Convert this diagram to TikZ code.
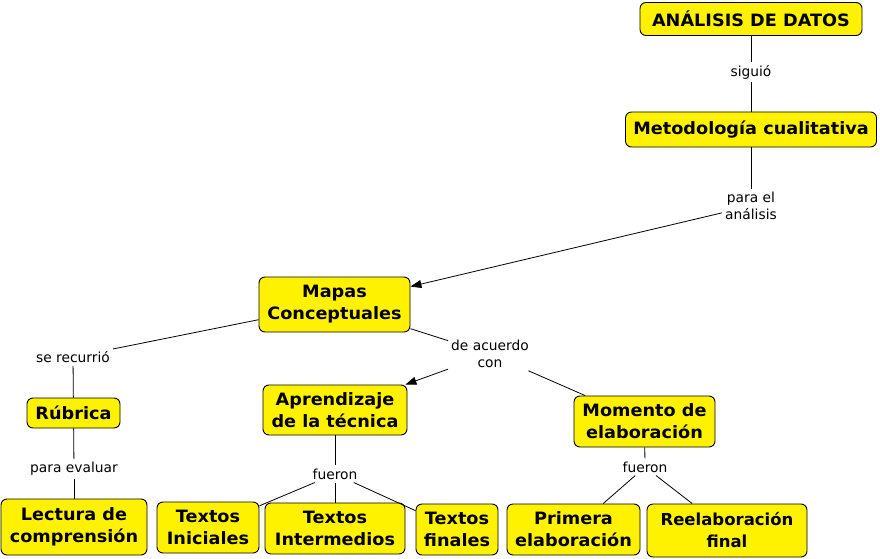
\documentclass[tikz,border=0pt]{standalone}
\usepackage{fontspec}
\setmainfont{DejaVu Sans}
\newfontfamily\cfont{DejaVu Sans}[FakeStretch=1.04]
\newfontfamily\rfont{DejaVu Sans}
\usetikzlibrary{arrows.meta}
\tikzset{
  concept/.style={draw=black, line width=0.9pt, fill=yellow, rounded corners=6pt,
    align=center, inner sep=1pt, font=\cfont\bfseries\fontsize{17}{22}\selectfont},
  linkph/.style={align=center, inner sep=3pt, font=\fontsize{13.8}{16.5}\selectfont},
  conn/.style={draw=black, line width=0.8pt},
  arr/.style={conn, -{Triangle[length=11pt,width=8pt]}}
}
\begin{document}
\begin{tikzpicture}[x=1pt,y=-1pt]
\useasboundingbox (0,0) rectangle (880,559);
% concepts
\node[concept, minimum width=222pt, minimum height=33pt] (analisis) at (751,19) {ANÁLISIS DE DATOS};
\node[concept, minimum width=251pt, minimum height=35pt] (metodo) at (751,129.5) {Metodología cualitativa};
\node[concept, minimum width=151pt, minimum height=55pt] (mapas) at (334.5,304.5) {Mapas\\Conceptuales};
\node[concept, minimum width=93pt, minimum height=30pt] (rubrica) at (73.5,413) {Rúbrica};
\node[concept, minimum width=146pt, minimum height=56pt] (lectura) at (74,527) {Lectura de\\comprensión};
\node[concept, minimum width=144pt, minimum height=50pt] (aprend) at (335,410) {Aprendizaje\\de la técnica};
\node[concept, minimum width=102pt, minimum height=51pt] (tini) at (208,527.5) {Textos\\Iniciales};
\node[concept, minimum width=140pt, minimum height=51pt] (tint) at (335,528.5) {Textos\\Intermedios};
\node[concept, minimum width=82pt, minimum height=51pt] (tfin) at (457,529.5) {Textos\\finales};
\node[concept, minimum width=141pt, minimum height=51pt] (momento) at (644.5,421.5) {Momento de\\elaboración};
\node[concept, minimum width=133pt, minimum height=51pt] (primera) at (573.5,529.5) {Primera\\elaboración};
\node[concept, minimum width=160pt, minimum height=53pt, font=\rfont\bfseries\fontsize{16.5}{22}\selectfont] (reel) at (727,530.5) {Reelaboración\\final};
% linking phrases
\node[linkph] (siguio) at (751,72) {siguió};
\node[linkph] (paraanal) at (751,206) {para el\\análisis};
\node[linkph] (serec) at (73,357) {se recurrió};
\node[linkph] (paraeval) at (74,469) {para evaluar};
\node[linkph] (deacuerdo) at (490,354) {de acuerdo\\con};
\node[linkph] (fueronA) at (335,474) {fueron};
\node[linkph] (fueronB) at (645,467) {fueron};
% connectors
\draw[conn] (analisis) -- (siguio);
\draw[conn] (siguio) -- (metodo);
\draw[conn] (metodo) -- (paraanal);
\draw[arr] (paraanal) -- (mapas);
\draw[conn] (mapas) -- (serec);
\draw[conn] (serec) -- (rubrica);
\draw[conn] (rubrica) -- (paraeval);
\draw[conn] (paraeval) -- (lectura);
\draw[conn] (mapas) -- (deacuerdo);
\draw[arr] (deacuerdo) -- (aprend);
\draw[conn] (deacuerdo) -- (momento);
\draw[conn] (aprend) -- (fueronA);
\draw[conn] (fueronA) -- (tini);
\draw[conn] (fueronA) -- (tint);
\draw[conn] (fueronA) -- (tfin);
\draw[conn] (momento) -- (fueronB);
\draw[conn] (fueronB) -- (primera);
\draw[conn] (fueronB) -- (reel);
\end{tikzpicture}
\end{document}
